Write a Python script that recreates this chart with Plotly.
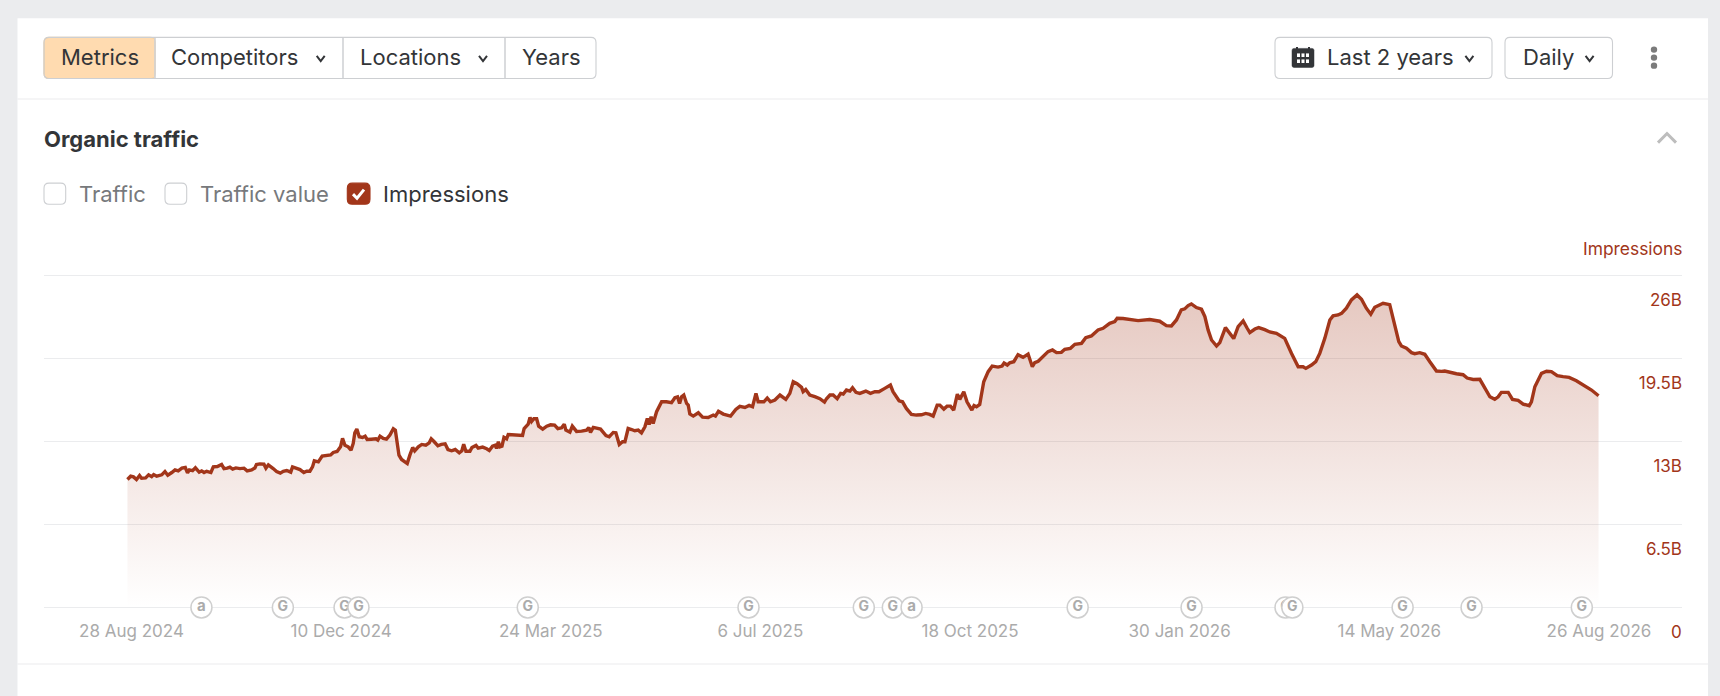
# Organic traffic card: impressions over the last 2 years
import pandas as pd
import plotly.graph_objects as go

START_DATE = "2024-08-26"

# days since START_DATE, impressions in billions
days = [
    0, 1.6, 3, 4.5, 6, 7, 9, 10.5, 12, 13, 14.5, 17, 18.6, 20, 22, 23.6, 25.2, 27, 28.7, 29.8,
    30.7, 32.3, 33.7, 35.6, 36.8, 38, 39.3, 41.4, 42.6, 44.6, 46.7, 47.9, 49.5, 50.8, 52.2, 53.8,
    55.8, 57.8, 59.4, 61.6, 63.2, 64, 65.7, 67.7, 68.7, 69.9, 72.3, 74, 75.8, 77.3, 79, 81, 81.9,
    83.9, 85.6, 87.5, 88.9, 90.5, 91.8, 92.7, 94.7, 96.6, 98.8, 100.8, 102.1, 104, 105.7, 106.7,
    107.9, 109.5, 110.9, 112, 112.8, 113.8, 115, 116.6, 117.9, 118.9, 121, 123.3, 124.2, 125.3,
    126.9, 128.5, 130.2, 131.9, 132.9, 133.9, 134.7, 136, 137.7, 138.8, 140.1, 141.5, 142.5, 144.3,
    146, 148, 149.7, 150.7, 152.2, 154, 155.7, 157.6, 159, 160.8, 162.6, 164.6, 165.9, 166.8, 167.9,
    169.9, 170.9, 172.9, 174, 176.2, 178.2, 179.5, 181.1, 182.5, 183.1, 184, 184.8,
    185.8, 186.8, 188.1, 188.9, 191.4, 193.9, 196, 196.8, 198.8, 199.7, 200.5, 201.6, 203, 204, 206,
    208, 209.9, 211.9, 213.5, 215.4, 216.7, 217.5, 219.5, 220.7, 222.8, 225.3, 227.8, 228.9, 229.7,
    231.1, 234.7, 237.4, 239, 241, 242.3, 244, 245.6, 246.8, 248.4, 250.1, 251.7, 253.4, 255, 256.7,
    257.9, 258.8, 259.8, 260.8, 262.5, 265, 267.4, 269.9, 271.6, 272.9, 273.9, 274.9, 276, 277.4,
    278.2, 279, 280.7, 283.2, 285.3, 288.1, 290.6, 291.7, 293.2, 295.6, 299.2, 301.8, 303.8, 306.3,
    308.4, 310.1, 311.8, 312.9, 315.7, 317.4, 319, 321.2, 323.7, 326.6, 328.6, 330.3, 332.2, 334.4,
    335.2, 336.5, 338.5, 341, 343.5, 345.8, 346.8, 348.5, 350.1, 352.1, 353.8, 355.1, 356.7, 358.4,
    359.7, 361.4, 363.3, 366.3, 368.6, 370.8, 372.8,
    375.7, 378.5, 379.8, 381.2, 382.8, 384.5, 386.4, 388.9, 391.4, 393.9, 396, 398, 399.7, 401.7, 403,
    405, 406.6, 408.3, 409.9, 411.7, 412.9, 414.9, 416.5, 418.9, 420, 421.2, 422.8, 424.8, 427, 429,
    431.9, 433.9, 434.9, 436.5, 437.7, 439.7, 441.8, 444.3, 446.8, 448.9, 450.1, 451.8, 454.2, 456.7,
    458.9, 460.9, 463.3, 465, 467.8, 470, 473.3, 475.4, 478.2, 481.5, 484, 487.3, 489.8, 491, 493.9,
    498, 501.4, 507.1, 512.1, 515.4, 517.9, 520.4, 522.8, 524.5, 526.2, 527.8,
    530.3, 532.8, 534.5, 536.1, 537.8, 540.3, 541.9, 544.7, 546.9, 548.8, 551, 553.5, 555.5, 556.8,
    559.3, 561.2, 564.2, 566.7, 570, 574.1, 577.5, 580.8, 583.2, 584.6, 587.4, 589.5, 591.5, 594,
    596.5, 598.1, 600.6, 602.3, 604.7, 607.2, 610, 612.2, 614.6, 616.8, 618.8, 622.9, 626.2, 628.2,
    630.7, 632, 634.5, 637, 638.6, 641.1, 643.6, 646.1, 649.4, 651.9, 653.5, 659.3, 662.6, 664.6,
    667.6, 670.9,
    673.4, 675.9, 678.3, 680, 681.6, 685, 687.1, 689.9, 692.4, 695.4, 696.5, 698.2, 701.5, 704, 706.4,
    709.3, 712.2, 715.2, 718.8, 722.2, 726.3, 729.8,
]
impressions = [
    10.02, 10.28, 10.23, 10.02, 10.33, 10.12, 10.15, 10.39, 10.25, 10.41, 10.28, 10.39, 10.65, 10.36,
    10.57, 10.78, 10.70, 10.91, 10.96, 10.54, 10.78, 10.72, 10.94, 10.60, 10.70, 10.57, 10.67, 10.57,
    11.01, 11.04, 11.2, 10.88, 10.91, 10.99, 10.83, 10.93, 10.88, 10.91, 10.7, 10.78, 10.93, 11.2,
    11.25, 11.22, 10.91, 11.17, 10.88, 10.65, 10.52, 10.67, 10.73, 10.6, 11.01, 10.93, 10.80, 10.57,
    10.67, 10.67, 11.01, 11.48, 11.4, 11.85, 11.88, 11.95, 12.14, 12.22, 12.58, 13.24, 12.71, 12.58,
    12.32, 12.85, 13.68, 13.97, 13.37, 13.32, 13.42, 13.16, 13.18, 13.21, 13.11, 13.42, 13.24, 13.18,
    13.5, 14.0, 13.89, 12.85, 11.93, 11.59, 11.35, 11.27, 11.93, 12.53, 12.27, 12.58, 12.77, 12.71,
    12.9, 13.21, 12.98, 12.66, 12.77, 12.82, 12.37, 12.27, 12.37, 12.11, 12.27, 12.79, 12.24, 12.24,
    12.53, 12.69, 12.48, 12.56, 12.43, 12.3, 12.63, 12.71, 12.45, 12.98, 12.58,
    12.63, 13.32, 13.21, 13.55, 13.5, 13.45, 13.47, 14.02, 14.36, 14.88, 14.57, 14.78, 14.78, 14.2,
    13.97, 14.2, 14.31, 14.28, 14.0, 14.07, 14.36, 13.89, 13.73, 14.2, 13.79, 13.81, 13.89, 14.1,
    13.71, 14.1, 13.97, 13.47, 13.37, 13.71, 13.68, 12.77, 12.98, 12.98, 14.02, 13.94, 13.84, 13.89,
    13.68, 14.15, 14.8, 14.33, 14.94, 14.41, 15.33, 16.11, 16.11, 16.04, 16.43, 16.5, 15.98, 16.5,
    16.64, 15.98, 15.85, 15.15, 14.99, 15.25, 14.91, 14.88, 15.07, 14.99, 15.36, 15.15, 14.99, 15.51,
    15.75, 15.67, 15.83, 15.72, 16.77, 16.11, 16.11, 16.4, 16.11, 16.25, 16.64, 16.3, 16.77, 17.68,
    17.53, 17.24, 16.9, 17.08, 16.64, 16.51, 16.35, 16.09, 16.35, 16.64, 16.64, 16.35, 16.77, 16.72,
    17.03, 16.95, 17.21, 16.85, 16.77, 16.95, 16.77, 16.9, 16.9,
    17.16, 17.42, 16.9, 16.56, 16.19, 16.11, 15.59, 15.12, 15.07, 15.09, 15.2, 15.12, 14.99, 15.85,
    15.85, 15.54, 15.77, 15.77, 15.46, 16.71, 16.3, 16.9, 16.11, 15.46, 15.82, 15.72, 15.9, 17.68,
    18.47, 18.91, 18.83, 18.91, 19.15, 18.99, 19.17, 19.25, 19.8, 19.59, 19.85, 18.86, 19.17, 19.28,
    19.64, 20.04, 20.17, 19.96, 19.98, 20.22, 20.3, 20.61, 20.69, 21.13, 21.27, 21.74, 21.87, 22.26,
    22.39, 22.65, 22.63, 22.57, 22.47, 22.55, 22.42, 22.08, 22.05, 22.52, 23.31, 23.39, 23.65, 23.78,
    23.49, 23.36, 22.78, 21.74, 20.95, 20.48, 20.74, 21.92, 21.47, 21.06, 22, 22.44, 21.87, 21.53,
    21.81, 21.92, 21.76, 21.58, 21.47, 21.08, 19.9, 18.86, 18.86, 18.73, 18.99, 19.25, 19.9, 21.08,
    22.52, 22.84, 22.91, 23.04, 23.44, 24.09, 24.48, 24.14, 23.44, 22.97, 23.52, 23.83, 23.72, 22.39,
    20.82, 20.48, 20.3, 19.96, 19.88, 19.96, 19.83, 19.25, 18.52, 18.49, 18.52, 18.31, 18.23, 17.97,
    17.86, 17.87,
    17.16, 16.5, 16.3, 16.5, 16.85, 16.85, 16.3, 16.22, 15.93, 15.8, 16.11, 17.29, 18.34, 18.5, 18.47,
    18.15, 18.08, 18.02, 17.76, 17.42, 17.03, 16.58,
]

tick_dates = ["2024-08-28", "2024-12-10", "2025-03-24", "2025-07-06", "2025-10-18", "2026-01-30",
              "2026-05-14", "2026-08-26"]
tick_labels = ["28 Aug 2024", "10 Dec 2024", "24 Mar 2025", "6 Jul 2025", "18 Oct 2025", "30 Jan 2026",
               "14 May 2026", "26 Aug 2026"]
y_ticks = [0, 6.5, 13, 19.5, 26]
y_tick_labels = ["0", "6.5B", "13B", "19.5B", "26B"]

# update markers on the axis
event_days = [36.7, 77.1, 107.7, 114.6, 198.6, 308.1, 365.3, 379.7, 389, 471.4, 527.9, 574.5, 577.9,
              632.6, 666.8, 721.5]
event_labels = ["a", "G", "G", "G", "G", "G", "G", "G", "a", "G", "G", "G", "G", "G", "G", "G"]

W, H = 1720, 696
# plotly drops gridlines within 1px of the plot edge, so the range is padded a little
Y_PAD = 0.12
PAD_PX = 1.53
LEFT, RIGHT, TOP, BOTTOM = 44, 1682, 275.7 - PAD_PX, 607 + PAD_PX
FONT = "Inter"
DARK = "#333538"
RUST = "#A2361A"
BORDER = "#CDCFD2"
RULE = "#EBECEE"


def px(x):
    return (x - LEFT) / (RIGHT - LEFT)


def py(y):
    return (BOTTOM - y) / (BOTTOM - TOP)


def rect(x0, y0, x1, y1, fill="rgba(0,0,0,0)", line=BORDER, width=1, layer="above"):
    return dict(type="rect", xref="paper", yref="paper", x0=px(x0), x1=px(x1), y0=py(y0), y1=py(y1),
                fillcolor=fill, line=dict(color=line, width=width), layer=layer)


def round_rect(x0, y0, x1, y1, r=5, fill="rgba(0,0,0,0)", line=BORDER, width=1.1):
    # plain polygon with clipped corners via quadratic curves, in paper units
    p = lambda x, y: f"{px(x):.6f},{py(y):.6f}"
    path = (f"M{p(x0 + r, y0)} L{p(x1 - r, y0)} Q{p(x1, y0)} {p(x1, y0 + r)} L{p(x1, y1 - r)} "
            f"Q{p(x1, y1)} {p(x1 - r, y1)} L{p(x0 + r, y1)} Q{p(x0, y1)} {p(x0, y1 - r)} "
            f"L{p(x0, y0 + r)} Q{p(x0, y0)} {p(x0 + r, y0)} Z")
    return dict(type="path", xref="paper", yref="paper", path=path, fillcolor=fill,
                line=dict(color=line, width=width), layer="above")


def polyline(points, color=DARK, width=2):
    path = "M" + " L".join(f"{px(x):.6f},{py(y):.6f}" for x, y in points)
    return dict(type="path", xref="paper", yref="paper", path=path,
                line=dict(color=color, width=width), layer="above")


def chevron(x, y, w=4, h=2.6, color=DARK, width=2):
    return polyline([(x - w, y - h), (x, y + h), (x + w, y - h)], color, width)


def label(x, y, text, size=22, color=DARK, anchor="left", bold=False):
    # annotations sit about 2px in from their anchor
    shift = -2 if anchor == "left" else 2
    return dict(xref="paper", yref="paper", x=px(x), y=py(y), text=f"<b>{text}</b>" if bold else text,
                showarrow=False, xanchor=anchor, yanchor="middle", xshift=shift, yshift=0,
                font=dict(family=FONT, size=size, color=color))


start = pd.Timestamp(START_DATE)
dates = start + pd.to_timedelta(days, unit="D")
event_dates = start + pd.to_timedelta(event_days, unit="D")

fig = go.Figure()
fig.add_trace(go.Scatter(
    x=dates, y=impressions, mode="lines", fill="tozeroy",
    line=dict(color=RUST, width=3.4),
    fillgradient=dict(type="vertical", start=0, stop=26,
                      colorscale=[[0, "rgba(162,54,26,0)"], [1, "rgba(162,54,26,0.29)"]]),
    hoverinfo="skip",
))

# one trace per marker so that later circles cover earlier ones
for when, letter in zip(event_dates, event_labels):
    fig.add_trace(go.Scatter(
        x=[when], y=[0], mode="markers+text", text=[letter], textposition="middle center",
        textfont=dict(family=FONT, size=15 if letter == "a" else 14, color="#ABABAB", weight=700),
        marker=dict(size=21, color="white", line=dict(color="#CFCFCF", width=1.5)),
        cliponaxis=False, hoverinfo="skip",
    ))

shapes = [
    rect(17.5, 19, 1708, 700, fill="white", line="white", width=0, layer="below"),
    rect(17.5, 99, 1708, 100, fill=RULE, line=RULE, width=0),
    rect(17.5, 663, 1708, 664, fill=RULE, line=RULE, width=0),
    # left button group
    round_rect(44, 38, 155, 79, fill="#FFDBB0", line="#EFC998"),
    rect(100, 39, 155, 78, fill="#FFDBB0", line="#FFDBB0", width=0),
    round_rect(44, 38, 596, 79),
    rect(155, 38.5, 155, 78.5),
    rect(343, 38.5, 343, 78.5),
    rect(505, 38.5, 505, 78.5),
    chevron(320.7, 59),
    chevron(483, 59),
    # right buttons
    round_rect(1275, 38, 1492, 79),
    round_rect(1505, 38, 1612.5, 79),
    chevron(1469.4, 59),
    chevron(1589.6, 59),
    # calendar icon
    round_rect(1292, 49, 1314, 68, r=2, fill=DARK, line=DARK, width=0.5),
    rect(1296, 47.5, 1298, 51, fill=DARK, line=DARK, width=0),
    rect(1308, 47.5, 1310, 51, fill=DARK, line=DARK, width=0),
    # three dots menu
    dict(type="circle", xref="paper", yref="paper", x0=px(1650.8), x1=px(1657.2), y0=py(47), y1=py(53.4),
         fillcolor="#7B7B7B", line=dict(width=0), layer="above"),
    dict(type="circle", xref="paper", yref="paper", x0=px(1650.8), x1=px(1657.2), y0=py(55), y1=py(61.4),
         fillcolor="#7B7B7B", line=dict(width=0), layer="above"),
    dict(type="circle", xref="paper", yref="paper", x0=px(1650.8), x1=px(1657.2), y0=py(63), y1=py(69.4),
         fillcolor="#7B7B7B", line=dict(width=0), layer="above"),
    # collapse arrow
    polyline([(1658, 143), (1667, 134), (1676, 143)], "#BDBDBD", 3),
    # checkboxes
    round_rect(44, 183.5, 65.7, 204.5),
    round_rect(165, 183.5, 186.7, 204.5),
    round_rect(347.3, 183.5, 370, 204.5, fill=RUST, line=RUST),
    polyline([(353, 194.5), (357, 198.5), (364, 190)], "white", 3),
]
# calendar cells
for cx in (1297, 1301.5, 1306):
    for cy in (54, 60):
        shapes.append(rect(cx, cy, cx + 3, cy + 3.6, fill="white", line="white", width=0))

annotations = [
    label(61, 58, "Metrics"),
    label(171, 58, "Competitors"),
    label(360, 58, "Locations"),
    label(522, 58, "Years"),
    label(1327.4, 58, "Last 2 years"),
    label(1523, 58, "Daily"),
    label(44, 139, "Organic traffic", bold=True),
    label(79, 194, "Traffic", color="#77797C"),
    label(200, 194, "Traffic value", color="#77797C"),
    label(383, 194, "Impressions"),
    label(RIGHT, 249, "Impressions", size=17.4, color=RUST, anchor="right"),
    # inside tick labels below the plot get hidden, so the zero label is placed by hand
    label(RIGHT, 631, y_tick_labels[0], size=17, color=RUST, anchor="right"),
    label(44, 704, "Organic positions", bold=True),
]

fig.update_layout(
    width=W, height=H,
    margin=dict(l=LEFT, r=W - RIGHT, t=TOP, b=H - BOTTOM, pad=0),
    paper_bgcolor="#EBECEE", plot_bgcolor="white",
    showlegend=False, shapes=shapes, annotations=annotations,
    font=dict(family=FONT),
)
fig.update_xaxes(
    type="date",
    range=[start - pd.Timedelta(days=41.4), start + pd.Timedelta(days=771.2)],
    tickmode="array", tickvals=tick_dates, ticktext=tick_labels, ticks="", showgrid=False,
    zeroline=False, showline=False, tickangle=0, ticklabelstandoff=10,
    tickfont=dict(family=FONT, size=17, color="#ABABAB"),
)
fig.update_yaxes(
    range=[-Y_PAD, 26 + Y_PAD], side="right", tickmode="array", tickvals=y_ticks,
    ticktext=[""] + y_tick_labels[1:],
    ticks="", showgrid=True, gridcolor=RULE, gridwidth=1, zeroline=False, showline=False,
    ticklabelposition="inside", ticklabelshift=25, ticklabelstandoff=-3,
    tickfont=dict(family=FONT, size=17, color=RUST),
)

fig.write_html("out.html", config=dict(displayModeBar=False),
               post_script="document.body.style.margin='0';document.body.style.overflow='hidden';")
